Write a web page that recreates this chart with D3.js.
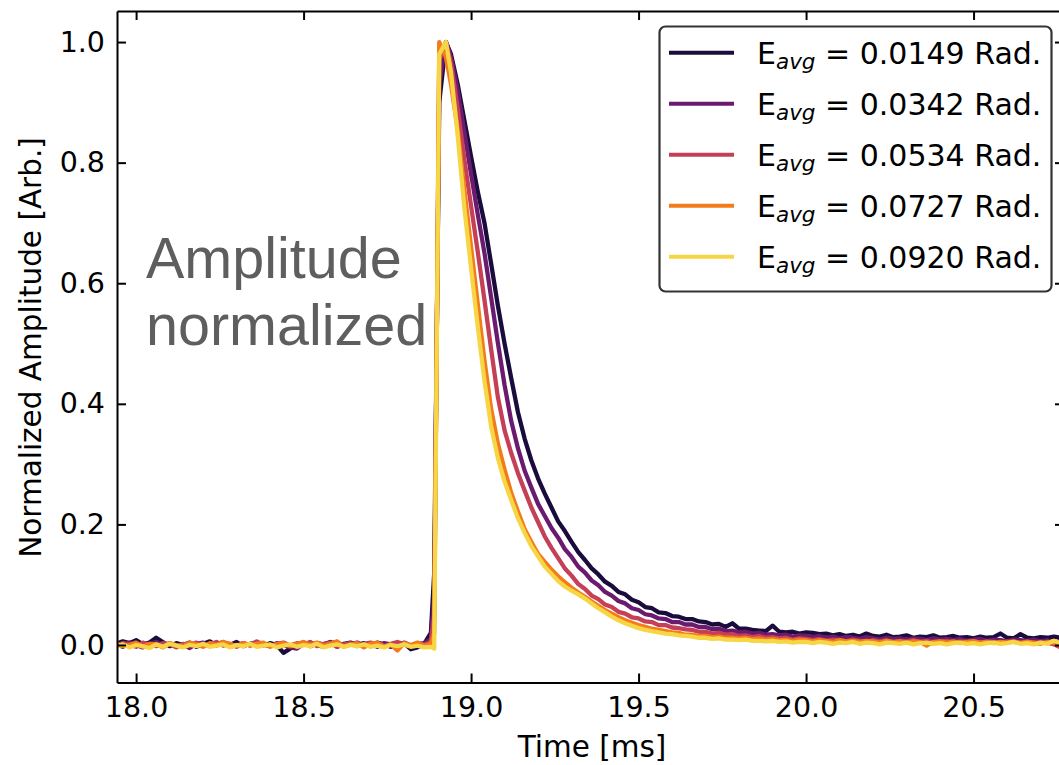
<!DOCTYPE html>
<html>
<head>
<meta charset="utf-8">
<script src="https://cdn.jsdelivr.net/npm/d3@7"></script>
<style>
  body { margin: 0; background: #fff; }
  svg { display: block; font-family: "DejaVu Sans", sans-serif; }
  .axis path, .axis line { stroke: #000; stroke-width: 2; }
  .axis text { font-size: 28.5px; fill: #000; font-family: "DejaVu Sans", sans-serif; }
</style>
</head>
<body>
<script>
'use strict';

// sample times [ms]
var timeBase = [
  17.94, 17.96, 17.98, 18.00, 18.02, 18.04, 18.06, 18.08, 18.10, 18.12, 18.14, 18.16,
  18.18, 18.20, 18.22, 18.24, 18.26, 18.28, 18.30, 18.32, 18.34, 18.36, 18.38, 18.40,
  18.42, 18.44, 18.46, 18.48, 18.50, 18.52, 18.54, 18.56, 18.58, 18.60, 18.62, 18.64,
  18.66, 18.68, 18.70, 18.72, 18.74, 18.76, 18.78, 18.80, 18.82, 18.84, 18.86, 18.88
];
var timeRise = [18.89, 18.905, 18.925];
var timeTail = [
  18.94, 18.96, 18.98, 19.00, 19.02, 19.04, 19.06, 19.08, 19.10, 19.12,
  19.14, 19.16, 19.18, 19.20, 19.22, 19.24, 19.26, 19.28, 19.30, 19.32,
  19.34, 19.36, 19.38, 19.40, 19.42, 19.44, 19.46, 19.48, 19.50, 19.52,
  19.54, 19.56, 19.58, 19.60, 19.62, 19.64, 19.66, 19.68, 19.70, 19.72,
  19.74, 19.76, 19.78, 19.80, 19.82, 19.84, 19.86, 19.88, 19.90, 19.92,
  19.94, 19.96, 19.98, 20.00, 20.02, 20.04, 20.06, 20.08, 20.10, 20.12,
  20.14, 20.16, 20.18, 20.20, 20.22, 20.24, 20.26, 20.28, 20.30, 20.32,
  20.34, 20.36, 20.38, 20.40, 20.42, 20.44, 20.46, 20.48, 20.50, 20.52,
  20.54, 20.56, 20.58, 20.60, 20.62, 20.64, 20.66, 20.68, 20.70, 20.72,
  20.74, 20.76, 20.78
];
var times = timeBase.concat(timeRise, timeTail);

var labels = ["0.0149", "0.0342", "0.0534", "0.0727", "0.0920"];
var colors = ["#1b0c3e", "#6b1b6f", "#c53f57", "#f37b1b", "#f6d645"];

// normalized amplitude, E = 0.0149
var amp0149 = [
  0.002, 0.006, 0.003, 0.008, 0.001, 0.004, 0.012, 0.005, -0.002, 0.003, 0.000, 0.004,
  -0.003, 0.002, 0.006, -0.001, 0.003, 0.000, 0.005, -0.002, 0.002, 0.004, -0.001, 0.003,
  0.000, -0.013, -0.006, 0.002, 0.004, -0.002, 0.003, 0.001, 0.005, -0.003, 0.002, 0.004,
  0.000, 0.003, -0.002, 0.004, 0.001, -0.003, 0.002, 0.003, -0.007, -0.004, 0.002, 0.020,
  0.12, 0.90, 1.00,
  0.980, 0.930, 0.870, 0.810, 0.752, 0.700, 0.632, 0.563, 0.500, 0.442,
  0.386, 0.342, 0.306, 0.276, 0.251, 0.228, 0.205, 0.189, 0.171, 0.154,
  0.141, 0.127, 0.117, 0.105, 0.098, 0.088, 0.084, 0.075, 0.071, 0.063,
  0.061, 0.054, 0.053, 0.048, 0.047, 0.043, 0.043, 0.039, 0.038, 0.034,
  0.035, 0.030, 0.036, 0.027, 0.027, 0.025, 0.024, 0.023, 0.032, 0.022,
  0.021, 0.022, 0.019, 0.021, 0.020, 0.018, 0.019, 0.016, 0.018, 0.015,
  0.017, 0.014, 0.019, 0.015, 0.014, 0.017, 0.013, 0.014, 0.016, 0.012,
  0.014, 0.013, 0.016, 0.012, 0.013, 0.015, 0.012, 0.013, 0.011, 0.014,
  0.012, 0.013, 0.019, 0.012, 0.011, 0.018, 0.012, 0.011, 0.013, 0.012,
  0.014, 0.012, 0.013
];
var amp0342 = [
  0.001, -0.003, 0.004, 0.000, -0.004, 0.002, 0.005, -0.001, 0.003, -0.002, 0.001, -0.005,
  0.002, 0.004, -0.002, 0.001, 0.005, -0.003, 0.000, 0.003, -0.001, 0.004, 0.001, -0.002,
  0.003, 0.000, -0.004, -0.006, 0.002, 0.004, 0.000, -0.003, 0.003, 0.005, -0.002, 0.001,
  0.004, -0.001, 0.002, -0.003, 0.003, 0.001, -0.002, 0.004, -0.001, 0.002, 0.003, 0.010,
  0.08, 0.93, 1.00,
  0.975, 0.920, 0.850, 0.781, 0.714, 0.650, 0.576, 0.501, 0.431, 0.371,
  0.326, 0.289, 0.261, 0.234, 0.214, 0.194, 0.178, 0.159, 0.146, 0.130,
  0.120, 0.107, 0.099, 0.088, 0.082, 0.073, 0.069, 0.061, 0.058, 0.051,
  0.049, 0.044, 0.043, 0.038, 0.038, 0.034, 0.034, 0.030, 0.030, 0.026,
  0.027, 0.023, 0.024, 0.021, 0.022, 0.019, 0.020, 0.017, 0.018, 0.016,
  0.017, 0.014, 0.016, 0.015, 0.013, 0.015, 0.012, 0.014, 0.011, 0.013,
  0.012, 0.010, 0.013, 0.011, 0.009, 0.012, 0.010, 0.011, 0.008, 0.011,
  0.010, 0.008, 0.011, 0.009, 0.010, 0.008, 0.010, 0.007, 0.009, 0.010,
  0.007, 0.009, 0.008, 0.006, 0.009, 0.008, 0.007, 0.009, 0.006, 0.008,
  0.003, 0.007, 0.006
];
var amp0534 = [
  -0.002, 0.003, 0.001, -0.003, 0.004, 0.000, -0.002, 0.003, 0.001, -0.004, 0.002, 0.000,
  0.004, -0.002, 0.001, 0.005, -0.001, 0.002, -0.003, 0.003, 0.000, 0.006, 0.001, -0.002,
  0.002, 0.004, -0.001, 0.003, 0.000, 0.005, -0.002, 0.002, 0.004, -0.003, 0.001, 0.003,
  -0.002, 0.002, 0.004, 0.000, -0.003, 0.002, 0.005, 0.001, -0.002, 0.003, 0.000, 0.005,
  0.05, 0.97, 1.00,
  0.965, 0.890, 0.805, 0.728, 0.652, 0.572, 0.490, 0.411, 0.356, 0.318,
  0.285, 0.256, 0.228, 0.204, 0.180, 0.161, 0.144, 0.127, 0.115, 0.101,
  0.093, 0.082, 0.076, 0.067, 0.063, 0.055, 0.052, 0.046, 0.044, 0.039,
  0.038, 0.033, 0.033, 0.029, 0.028, 0.026, 0.025, 0.022, 0.022, 0.019,
  0.020, 0.017, 0.018, 0.015, 0.016, 0.013, 0.015, 0.012, 0.013, 0.011,
  0.012, 0.009, 0.011, 0.010, 0.008, 0.010, 0.007, 0.009, 0.008, 0.006,
  0.009, 0.007, 0.005, 0.008, 0.006, 0.008, 0.004, 0.007, 0.006, 0.008,
  0.005, 0.007, 0.004, 0.006, 0.007, 0.004, 0.006, 0.005, 0.007, 0.004,
  0.006, 0.005, 0.003, 0.006, 0.005, 0.004, 0.006, 0.003, 0.005, 0.004,
  0.001, -0.004, 0.000
];
var amp0727 = [
  0.003, -0.002, 0.000, 0.004, -0.003, 0.002, 0.001, -0.004, 0.003, 0.000, -0.002, 0.004,
  0.001, -0.003, 0.003, 0.000, 0.005, 0.002, -0.002, 0.003, -0.001, 0.002, 0.004, -0.003,
  0.001, 0.003, -0.002, 0.002, 0.005, 0.000, 0.004, -0.001, 0.002, 0.006, -0.003, 0.001,
  0.003, -0.004, 0.002, 0.004, -0.002, 0.001, -0.009, 0.003, 0.000, 0.004, -0.001, 0.002,
  0.02, 1.00, 0.975,
  0.930, 0.855, 0.755, 0.660, 0.565, 0.472, 0.391, 0.334, 0.291, 0.252,
  0.221, 0.192, 0.171, 0.151, 0.138, 0.125, 0.114, 0.104, 0.095, 0.087,
  0.080, 0.072, 0.065, 0.058, 0.052, 0.046, 0.041, 0.037, 0.033, 0.030,
  0.027, 0.025, 0.023, 0.021, 0.020, 0.017, 0.017, 0.015, 0.015, 0.013,
  0.014, 0.012, 0.012, 0.011, 0.012, 0.010, 0.011, 0.009, 0.010, 0.008,
  0.009, 0.007, 0.009, 0.008, 0.006, 0.008, 0.007, 0.005, 0.008, 0.006,
  0.007, 0.005, 0.007, 0.006, 0.004, 0.007, 0.005, 0.006, 0.004, 0.006,
  0.005, -0.001, 0.005, 0.006, 0.004, 0.006, 0.003, 0.005, 0.006, 0.004,
  0.005, 0.003, 0.005, 0.004, 0.006, 0.003, 0.005, 0.004, 0.002, 0.005,
  0.004, 0.003, 0.004
];
var amp0920 = [
  -0.003, 0.001, -0.004, 0.000, -0.002, -0.005, 0.001, -0.003, 0.002, -0.001, -0.004, 0.000,
  -0.002, 0.002, -0.003, -0.001, 0.001, -0.004, 0.000, -0.002, 0.002, -0.003, -0.001, 0.001,
  -0.004, -0.001, 0.001, -0.003, 0.000, -0.002, 0.002, -0.004, -0.001, 0.001, -0.003, 0.000,
  -0.002, 0.001, -0.003, -0.001, -0.004, 0.000, -0.002, 0.001, -0.003, -0.001, -0.004, -0.003,
  -0.006, 0.98, 1.00,
  0.950, 0.845, 0.725, 0.625, 0.528, 0.438, 0.362, 0.310, 0.271, 0.240,
  0.210, 0.186, 0.164, 0.147, 0.130, 0.118, 0.106, 0.097, 0.090, 0.084,
  0.077, 0.069, 0.061, 0.054, 0.047, 0.041, 0.036, 0.032, 0.028, 0.025,
  0.023, 0.021, 0.019, 0.018, 0.016, 0.015, 0.014, 0.012, 0.012, 0.010,
  0.011, 0.009, 0.009, 0.008, 0.009, 0.007, 0.007, 0.006, 0.007, 0.005,
  0.006, 0.004, 0.005, 0.005, 0.003, 0.005, 0.004, 0.002, 0.004, 0.003,
  0.005, 0.002, 0.004, 0.003, 0.001, 0.004, 0.003, 0.002, 0.004, 0.001,
  0.003, 0.004, 0.002, 0.003, 0.001, 0.003, 0.004, 0.002, 0.003, 0.001,
  0.003, 0.004, 0.002, 0.003, 0.005, 0.002, 0.003, 0.001, 0.004, 0.002,
  0.007, 0.003, 0.002
];
var series = [amp0149, amp0342, amp0534, amp0727, amp0920];

var xTicks = [18.0, 18.5, 19.0, 19.5, 20.0, 20.5];
var yTicks = [0.0, 0.2, 0.4, 0.6, 0.8, 1.0];

var width = 1059,
    height = 765,
    plotLeft = 117,
    plotRight = 1064,
    plotTop = 11,
    plotBottom = 682.5;

var x = d3.scaleLinear().domain([17.943, 20.770]).range([plotLeft, plotRight]);
var y = d3.scaleLinear().domain([-0.0622, 1.0515]).range([plotBottom, plotTop]);

var svg = d3.select("body").append("svg")
  .attr("width", width)
  .attr("height", height);

svg.append("clipPath").attr("id", "plotclip")
  .append("rect")
  .attr("x", plotLeft).attr("y", plotTop)
  .attr("width", plotRight - plotLeft).attr("height", plotBottom - plotTop);

// curves
var line = d3.line()
  .x(function(d) { return x(d[0]); })
  .y(function(d) { return y(d[1]); });

svg.append("g")
  .attr("clip-path", "url(#plotclip)")
  .selectAll("path.curve")
  .data(series)
  .enter().append("path")
  .attr("class", "curve")
  .attr("fill", "none")
  .attr("stroke", function(d, i) { return colors[i]; })
  .attr("stroke-width", 4.3)
  .attr("stroke-linejoin", "round")
  .attr("stroke-linecap", "round")
  .attr("d", function(d) { return line(d3.zip(times, d)); });

// axes, ticks pointing inward on all four sides
svg.append("g").attr("class", "axis")
  .attr("transform", "translate(0," + plotBottom + ")")
  .call(d3.axisBottom(x).tickValues(xTicks).tickFormat(d3.format(".1f"))
    .tickSizeInner(-9).tickSizeOuter(0).tickPadding(14));

svg.append("g").attr("class", "axis")
  .attr("transform", "translate(" + plotLeft + ",0)")
  .call(d3.axisLeft(y).tickValues(yTicks).tickFormat(d3.format(".1f"))
    .tickSizeInner(-9).tickSizeOuter(0).tickPadding(12));

svg.append("g").attr("class", "axis")
  .attr("transform", "translate(0," + plotTop + ")")
  .call(d3.axisTop(x).tickValues(xTicks).tickFormat("")
    .tickSizeInner(-9).tickSizeOuter(0));

svg.append("g").attr("class", "axis")
  .attr("transform", "translate(" + plotRight + ",0)")
  .call(d3.axisRight(y).tickValues(yTicks).tickFormat("")
    .tickSizeInner(-9).tickSizeOuter(0));

svg.selectAll(".axis .tick text").attr("font-family", "DejaVu Sans");

// axis labels
svg.append("text")
  .attr("x", 592)
  .attr("y", 757)
  .attr("text-anchor", "middle")
  .style("font-size", "29.5px")
  .text("Time [ms]");

svg.append("text")
  .attr("transform", "translate(41,347.5) rotate(-90)")
  .attr("text-anchor", "middle")
  .style("font-size", "29.5px")
  .text("Normalized Amplitude [Arb.]");

// annotation
var note = svg.append("text")
  .style("font-family", "'Liberation Sans', Arial, sans-serif")
  .style("font-size", "57.5px")
  .attr("fill", "#5e5e5e");
note.append("tspan").attr("x", 146).attr("y", 278).text("Amplitude");
note.append("tspan").attr("x", 146).attr("y", 345).text("normalized");

// legend
var legend = svg.append("g");
legend.append("rect")
  .attr("x", 659.5).attr("y", 26.5)
  .attr("width", 392).attr("height", 265)
  .attr("rx", 6)
  .attr("fill", "#fff")
  .attr("stroke", "#333")
  .attr("stroke-width", 2.2);

var rows = legend.selectAll("g.row")
  .data(labels)
  .enter().append("g")
  .attr("class", "row")
  .attr("transform", function(d, i) { return "translate(0," + (52.7 + i * 51) + ")"; });

rows.append("line")
  .attr("x1", 669).attr("x2", 734)
  .attr("stroke", function(d, i) { return colors[i]; })
  .attr("stroke-width", 4);

var lab = rows.append("text")
  .attr("x", 757)
  .attr("y", 10.8)
  .style("font-size", "30px");
lab.append("tspan").text("E");
lab.append("tspan")
  .attr("dy", 5.5)
  .style("font-size", "21.5px")
  .style("font-style", "italic")
  .text("avg");
lab.append("tspan")
  .attr("dy", -5.5)
  .text(function(d) { return " = " + d + " Rad."; });
</script>
</body>
</html>
